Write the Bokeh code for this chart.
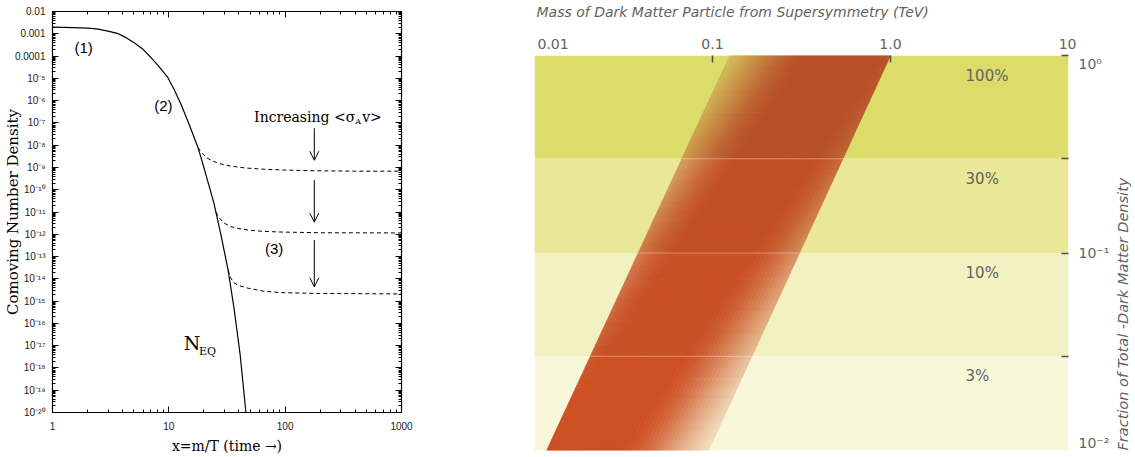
import numpy as np
from bokeh.plotting import figure
from bokeh.layouts import row, column
from bokeh.models import LogAxis, FixedTicker, Label, Arrow, OpenHead, Range1d
from bokeh.embed import file_html
from bokeh.resources import INLINE
from bokeh.core.properties import value

# ---------------- Left panel data ----------------
x_ticks = [1, 10, 100, 1000]
x_tick_labels = ["1", "10", "100", "1000"]
y_ticks = [1e-20, 1e-19, 1e-18, 1e-17, 1e-16, 1e-15, 1e-14, 1e-13, 1e-12, 1e-11,
           1e-10, 1e-09, 1e-08, 1e-07, 1e-06, 1e-05, 1e-04, 1e-03, 1e-02]
y_tick_labels = ["10⁻²⁰", "10⁻¹⁹", "10⁻¹⁸", "10⁻¹⁷", "10⁻¹⁶", "10⁻¹⁵", "10⁻¹⁴", "10⁻¹³",
                 "10⁻¹²", "10⁻¹¹", "10⁻¹⁰", "10⁻⁹", "10⁻⁸", "10⁻⁷", "10⁻⁶", "10⁻⁵",
                 "0.0001", "0.001", "0.01"]

# equilibrium curve N_EQ
neq_x = [1, 1.5, 2, 2.4, 3, 3.6, 4.2, 5, 6, 7, 8.3, 9.8, 11, 12.7, 14.9, 17.8, 20,
         24.4, 28, 32.3, 36.3, 41, 46]
neq_y = [2.0e-3, 1.9e-3, 1.8e-3, 1.66e-3, 1.32e-3, 1.05e-3, 7.1e-4, 4.1e-4, 2.0e-4,
         8.7e-5, 3.2e-5, 1.1e-5, 3.5e-6, 7.1e-7, 8.9e-8, 7.9e-9, 1.0e-9, 2.5e-11,
         1.0e-12, 2.5e-14, 5.0e-16, 4.0e-18, 1.0e-20]

# freeze-out (dashed) curves
fo1_x = [17.8, 18.9, 21, 23, 27, 34, 45, 66, 100, 178, 400, 1000]
fo1_y = [7.9e-9, 4.9e-9, 2.8e-9, 2.1e-9, 1.5e-9, 1.15e-9, 9.5e-10, 8.3e-10, 7.6e-10,
         7.1e-10, 6.8e-10, 6.8e-10]
fo2_x = [25.4, 27, 29.8, 34, 40, 48, 65, 92, 200, 1000]
fo2_y = [1.0e-11, 5.6e-12, 3.2e-12, 2.2e-12, 1.8e-12, 1.55e-12, 1.35e-12, 1.26e-12,
         1.17e-12, 1.15e-12]
fo3_x = [32.3, 34, 36.3, 40, 48, 65, 92, 200, 1000]
fo3_y = [2.5e-14, 1.1e-14, 6.6e-15, 5.0e-15, 3.8e-15, 2.8e-15, 2.4e-15, 2.2e-15, 2.1e-15]

# arrows "Increasing <sigma v>"
arrow_x = [178, 178, 178]
arrow_y_start = [5.8e-8, 2.7e-10, 5.5e-13]
arrow_y_end = [2.1e-9, 3.5e-12, 4.4e-15]

stage_labels = ["(1)", "(2)", "(3)"]
stage_x = [1.85, 8.97, 80.4]
stage_y = [2.3e-4, 5.9e-7, 2.2e-13]

# ---------------- Right panel data ----------------
mass_ticks = [0.01, 0.1, 1.0, 10]
mass_tick_labels = ["0.01", "0.1", "1.0", "10"]
frac_ticks = [1.0, 0.3, 0.1, 0.03, 0.01]
frac_label_ticks = [1.0, 0.1, 0.01]
frac_tick_labels = ["10⁰", "10⁻¹", "10⁻²"]
band_top = [1.0, 0.3, 0.1, 0.03]
band_bottom = [0.3, 0.1, 0.03, 0.01]
band_labels = ["100%", "30%", "10%", "3%"]
band_label_mass = 2.64
strip_frac = [0.01, 1.0]
strip_mass_low = [0.0117, 0.125]
strip_mass_high = [0.095, 1.0]

# styles
band_colors = ["#dbdc6a", "#e9e898", "#f2f1c1", "#f7f7d9"]
band_core = ["#b84f28", "#c24e26", "#c94f25", "#cd4f22"]
SERIF = "DejaVu Serif"
SANS = "Liberation Sans"
RSANS = "DejaVu Sans"
GREY = "#5f6360"
H = 456

# =============== Left figure ===============
p1 = figure(width=520, height=H, x_axis_type="log", y_axis_type="log",
            x_range=Range1d(1, 1000), y_range=Range1d(1e-20, 1e-2),
            output_backend="svg", toolbar_location=None,
            min_border_left=52, min_border_right=119, min_border_top=11, min_border_bottom=43)
p1.frame_align = False
p1.grid.visible = False
p1.outline_line_color = "black"
p1.outline_line_width = 1.2

x_minor = [m * 10 ** k for k in range(0, 3) for m in range(2, 10)]
y_minor = [m * float(f"1e{k}") for k in range(-20, -2) for m in range(2, 10)]


def style_axis(ax, ticks, minor, labels=None):
    ax.ticker = FixedTicker(ticks=ticks, minor_ticks=minor)
    ax.axis_line_color = None
    ax.major_tick_in = 6
    ax.major_tick_out = 0
    ax.minor_tick_in = 3
    ax.minor_tick_out = 0
    ax.major_tick_line_color = "black"
    ax.minor_tick_line_color = "black"
    if labels is None:
        ax.major_label_text_font_size = "1px"
        ax.major_label_text_color = None
        ax.major_label_standoff = 0
    else:
        ax.major_label_overrides = {float(t): s for t, s in zip(ticks, labels)}
        ax.major_label_text_font = SANS
        ax.major_label_text_font_size = "10px"
        ax.major_label_text_color = "#222222"
        ax.major_label_standoff = 7


xa1 = p1.xaxis[0]
ya1 = p1.yaxis[0]
style_axis(xa1, x_ticks, x_minor, x_tick_labels)
style_axis(ya1, y_ticks, y_minor, y_tick_labels)
xa1.major_label_standoff = 9
xa1.axis_label = "x=m/T (time →)"
xa1.axis_label_text_font = SERIF
xa1.axis_label_text_font_style = "normal"
xa1.axis_label_text_font_size = "14px"
xa1.axis_label_text_color = "black"
xa1.axis_label_standoff = 5
ya1.axis_label = "Comoving Number Density"
ya1.axis_label_text_font = SERIF
ya1.axis_label_text_font_style = "normal"
ya1.axis_label_text_font_size = "15px"
ya1.axis_label_text_color = "black"
ya1.axis_label_standoff = -10

top1 = LogAxis()
right1 = LogAxis()
style_axis(top1, x_ticks, x_minor)
style_axis(right1, y_ticks, y_minor)
p1.add_layout(top1, "above")
p1.add_layout(right1, "right")

p1.line(neq_x, neq_y, line_color="black", line_width=1.2)
for fx, fy in [(fo1_x, fo1_y), (fo2_x, fo2_y), (fo3_x, fo3_y)]:
    p1.line(fx, fy, line_color="black", line_width=1, line_dash="4 3")

for ax_, ys_, ye_ in zip(arrow_x, arrow_y_start, arrow_y_end):
    p1.add_layout(Arrow(end=OpenHead(size=9, line_width=1, line_color="black"),
                        x_start=ax_, y_start=ys_, x_end=ax_, y_end=ye_,
                        line_width=1, line_color="black"))

for t, x, y in zip(stage_labels, stage_x, stage_y):
    p1.add_layout(Label(x=x, y=y, text=t, text_align="center", text_baseline="middle",
                        text_font=SANS, text_font_size="15px", text_color="black"))

# N_EQ
p1.add_layout(Label(x=15.8, y=1.3e-17, text="N", text_align="center", text_baseline="middle",
                    text_font=SERIF, text_font_size="19px", text_color="black"))
p1.add_layout(Label(x=15.8, y=1.3e-17, text="EQ", text_align="left", text_baseline="middle",
                    x_offset=7, y_offset=-8, text_font=SERIF, text_font_size="11px",
                    text_color="black"))

# Increasing <sigma_A v>
p1.add_layout(Label(x=200, y=1.8e-7, text="Increasing <σ", text_align="right",
                    text_baseline="middle", x_offset=35, text_font=SERIF,
                    text_font_size="14px", text_color="black"))
p1.add_layout(Label(x=200, y=1.8e-7, text="A", text_align="left", text_baseline="middle",
                    x_offset=35, y_offset=-4, text_font=SERIF, text_font_size="8px",
                    text_color="black"))
p1.add_layout(Label(x=200, y=1.8e-7, text="v>", text_align="left", text_baseline="middle",
                    x_offset=42, text_font=SERIF, text_font_size="14px", text_color="black"))

# =============== Right panel: header (title + top tick labels) ===============
HEAD_H = 52
P2_W, P2_L, P2_R = 557, 14, 9
dec_px = (P2_W - P2_L - P2_R) / np.log10(mass_ticks[-1] / mass_ticks[0])
head_lo = mass_ticks[0] * 10 ** (-P2_L / dec_px)
head_hi = mass_ticks[-1] * 10 ** (P2_R / dec_px)
ph = figure(width=P2_W, height=HEAD_H, x_axis_type="log",
            x_range=Range1d(head_lo, head_hi), y_range=Range1d(0, HEAD_H),
            output_backend="svg", toolbar_location=None,
            min_border_left=0, min_border_right=0, min_border_top=0, min_border_bottom=0)
ph.frame_align = False
ph.axis.visible = False
ph.grid.visible = False
ph.outline_line_color = None
ph.text(x=[mass_ticks[0]], y=[HEAD_H - 11],
        text=["Mass of Dark Matter Particle from Supersymmetry (TeV)"],
        x_offset=2, text_align="left", text_baseline="middle", text_font=value(RSANS),
        text_font_style="italic", text_font_size="14px", text_color=GREY)
ph.text(x=mass_ticks[:1], y=[HEAD_H - 43], text=mass_tick_labels[:1], x_offset=3,
        text_align="left", text_baseline="middle", text_font=value(RSANS),
        text_font_size="14px", text_color=GREY)
ph.text(x=mass_ticks[1:3], y=[HEAD_H - 43] * 2, text=mass_tick_labels[1:3],
        text_align="center", text_baseline="middle", text_font=value(RSANS),
        text_font_size="14px", text_color=GREY)
ph.text(x=mass_ticks[3:], y=[HEAD_H - 43], text=mass_tick_labels[3:], x_offset=8,
        text_align="right", text_baseline="middle", text_font=value(RSANS),
        text_font_size="14px", text_color=GREY)

# =============== Right panel: main figure ===============
p2 = figure(width=P2_W, height=H - HEAD_H, x_axis_type="log", y_axis_type="log",
            x_range=Range1d(mass_ticks[0], mass_ticks[-1]),
            y_range=Range1d(frac_ticks[-1], frac_ticks[0]),
            x_axis_location="above", y_axis_location="right",
            output_backend="svg", toolbar_location=None,
            min_border_left=P2_L, min_border_right=P2_R, min_border_top=3, min_border_bottom=6)
p2.frame_align = False
p2.grid.visible = False
p2.outline_line_color = None

p2.quad(left=[mass_ticks[0]] * 4, right=[mass_ticks[-1]] * 4, top=band_top,
        bottom=band_bottom, fill_color=band_colors, line_color=None)


def hex2rgb(h):
    return np.array([int(h[i:i + 2], 16) for i in (1, 3, 5)], dtype=float)


def smooth(u):
    u = min(max(u, 0.0), 1.0)
    return u * u * (3 - 2 * u)


lf0, lf1 = np.log10(strip_frac)
ll0, ll1 = np.log10(strip_mass_low)
lh0, lh1 = np.log10(strip_mass_high)


def strip_x(t, ly):
    s = (ly - lf0) / (lf1 - lf0)
    lo = ll0 + (ll1 - ll0) * s
    hi = lh0 + (lh1 - lh0) * s
    return float(10 ** (lo + (hi - lo) * t))


n_t, n_s = 40, 9
cxs, cys, ccols = [], [], []
for bi, (top, bot) in enumerate(zip(band_top, band_bottom)):
    core = hex2rgb(band_core[bi])
    bg = hex2rgb(band_colors[bi])
    lb, lt = np.log10(bot), np.log10(top)
    for i in range(n_s):
        ya = lb + (lt - lb) * i / n_s
        yb = lb + (lt - lb) * (i + 1) / n_s
        sm = ((ya + yb) / 2 - lf0) / (lf1 - lf0)
        tc = 0.22 + 0.5 * sm
        for j in range(n_t):
            ta, tb = j / n_t, (j + 1) / n_t
            d = abs((ta + tb) / 2 - tc)
            a = 1 - 0.92 * smooth((d - 0.22) / 0.66)
            rgb = a * core + (1 - a) * bg
            col = "#%02x%02x%02x" % tuple(int(round(c)) for c in rgb)
            cxs.append([strip_x(ta, ya), strip_x(tb, ya), strip_x(tb, yb), strip_x(ta, yb)])
            cys.append([float(10 ** ya), float(10 ** ya), float(10 ** yb), float(10 ** yb)])
            ccols.append(col)
p2.patches(cxs, cys, fill_color=ccols, line_color=ccols, line_width=0.7)

# faint boundary lines across the strip
for b in band_bottom[:-1]:
    lb_ = np.log10(b)
    p2.segment(x0=[strip_x(0, lb_)], y0=[b], x1=[strip_x(1, lb_)], y1=[b],
               line_color="white", line_alpha=0.35, line_width=1)

# tick-only axes
xa2 = p2.xaxis[0]
xa2.ticker = FixedTicker(ticks=[t for t in mass_ticks if mass_ticks[0] < t < mass_ticks[-1]],
                         minor_ticks=[])
ya2 = p2.yaxis[0]
ya2.ticker = FixedTicker(ticks=[t for t in frac_ticks if t > frac_ticks[-1]], minor_ticks=[])
for ax in (xa2, ya2):
    ax.axis_line_color = None
    ax.major_tick_in = 7
    ax.major_tick_out = 0
    ax.major_tick_line_color = "#4a4f4f"
    ax.major_tick_line_width = 1.5
    ax.major_label_text_font_size = "1px"
    ax.major_label_text_color = None
    ax.major_label_standoff = 0

for top, lab in zip(band_top, band_labels):
    p2.add_layout(Label(x=band_label_mass, y=top, text=lab, text_align="left",
                        text_baseline="top", y_offset=-11, text_font=RSANS,
                        text_font_size="15px", text_color=GREY))

# =============== Right side: tick labels + rotated title ===============
P3_W = 1134 - 520 - P2_W
p3 = figure(width=P3_W, height=H, x_range=Range1d(0, P3_W), y_axis_type="log",
            y_range=Range1d(frac_ticks[-1], frac_ticks[0]),
            output_backend="svg", toolbar_location=None,
            min_border_left=0, min_border_right=0, min_border_top=HEAD_H + 3,
            min_border_bottom=6)
p3.frame_align = False
p3.axis.visible = False
p3.grid.visible = False
p3.outline_line_color = None
for f, lab, bl in zip(frac_label_ticks, frac_tick_labels, ["top", "middle", "bottom"]):
    p3.text(x=[1], y=[f], text=[lab], text_align="left", text_baseline=bl,
            text_font=value(RSANS), text_font_size="14px", text_color=GREY)
p3.text(x=[45], y=[frac_ticks[-1]], text=["Fraction of Total -Dark Matter Density"],
        angle=np.pi / 2, text_align="left", text_baseline="middle",
        text_font=value(RSANS), text_font_style="italic", text_font_size="14.5px",
        text_color=GREY)

layout = row(p1, column(ph, p2), p3)
open("out.html", "w").write(file_html(layout, INLINE))
